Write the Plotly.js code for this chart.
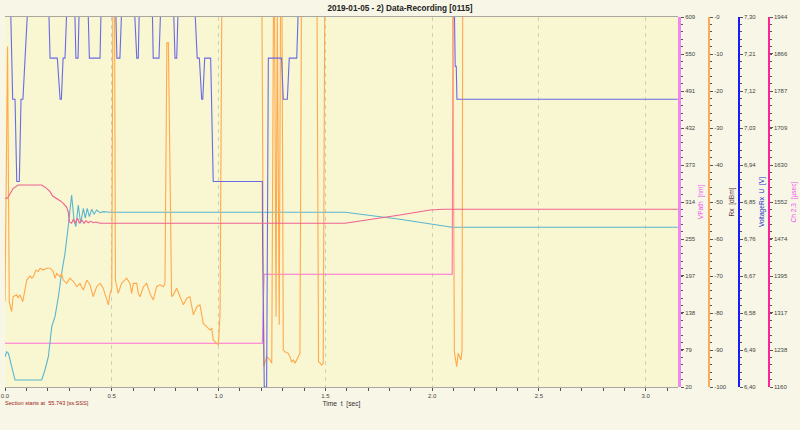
<!DOCTYPE html>
<html><head><meta charset="utf-8">
<script src="https://cdn.plot.ly/plotly-3.0.1.min.js"></script>
<style>html,body{margin:0;padding:0;background:#f8f6e6;}#chart{width:800px;height:430px;}</style>
</head><body><div id="chart"></div>
<script>
// ---- data (time in sec) ----
const voltT = [0,0.023,0.036,0.047,0.055,0.067,0.075,0.084,0.114,0.201,0.211,0.245,0.258,0.264,0.272,0.281,0.295,0.323,0.332,0.342,0.351,0.385,0.395,0.445,0.453,0.515,0.524,0.538,0.552,0.599,0.617,0.624,0.632,0.687,0.694,0.721,0.734,0.785,0.796,0.804,0.815,0.882,0.900,0.910,0.921,0.926,0.935,0.963,0.975,1.205,1.206,1.214,1.225,1.228,1.233,1.295,1.303,1.322,1.331,1.366,1.378,2.102,2.108,2.113,2.116,3.15];
const voltV = [7.40,7.40,7.10,7.10,6.90,6.90,7.10,7.10,7.40,7.40,7.20,7.20,7.10,7.10,7.20,7.20,7.40,7.40,7.20,7.20,7.40,7.40,7.20,7.20,7.40,7.40,7.20,7.20,7.40,7.40,7.20,7.20,7.40,7.40,7.20,7.20,7.40,7.40,7.20,7.20,7.40,7.40,7.20,7.20,7.10,7.10,7.20,7.20,6.90,6.90,6.75,6.40,6.40,6.64,7.20,7.20,7.10,7.10,7.20,7.20,7.40,7.40,7.18,7.18,7.10,7.10];

const rxT = [0,0.012,0.020,0.031,0.038,0.055,0.061,0.070,0.083,0.094,0.102,0.117,0.125,0.133,0.145,0.156,0.164,0.179,0.195,0.211,0.226,0.234,0.242,0.258,0.265,0.273,0.289,0.304,0.320,0.336,0.351,0.367,0.383,0.398,0.413,0.429,0.445,0.460,0.476,0.484,0.492,0.500,0.505,0.513,0.517,0.530,0.546,0.570,0.585,0.593,0.601,0.617,0.624,0.632,0.648,0.663,0.679,0.694,0.710,0.726,0.741,0.749,0.758,0.765,0.780,0.788,0.804,0.819,0.835,0.851,0.866,0.882,0.898,0.913,0.928,0.944,0.960,0.968,0.975,0.991,0.999,1.007,1.015,1.203,1.212,1.225,1.241,1.249,1.257,1.262,1.269,1.275,1.284,1.290,1.297,1.303,1.311,1.326,1.334,1.342,1.350,1.358,1.366,1.373,1.381,1.388,1.461,1.468,1.475,1.483,1.490,1.497,2.097,2.104,2.115,2.122,2.130,2.135,2.140,2.143,3.15];
const rxV = [-76.9,-8,-77,-79.6,-75.6,-75.1,-75.9,-75.1,-76.9,-73.8,-71.1,-70.0,-70.6,-70.2,-68.4,-68.8,-67.9,-68.4,-67.9,-67.9,-68.8,-70.6,-69.3,-70.2,-69.3,-71.1,-72.0,-70.6,-71.5,-72.9,-72.0,-73.8,-71.1,-72.4,-75.6,-72.9,-72.0,-73.3,-76.5,-77.8,-74.7,-73.3,2,2,-71.1,-74.7,-72.0,-70.6,-72.0,-74.7,-72.0,-72.0,-74.7,-75.6,-72.9,-72.0,-74.7,-76.5,-72.9,-72.4,-72.9,-72.0,-7,-7,-75.6,-75.1,-73.3,-75.6,-77.8,-76.0,-75.6,-80.5,-78.3,-77.8,-82.8,-83.7,-84.6,-84.1,-87.3,-88.2,-88.6,-80.1,2,2,-94.5,-91.8,-92.7,-93.6,2,2,-81.0,2,-83.2,2,2,-90.0,-90.5,-90.9,-91.8,-93.2,-92.7,-93.6,-92.7,-92.2,-90.9,2,2,-93.2,-93.5,-94.1,-93.6,2,2,-90.5,-94.5,-90.9,-91.8,-92.7,-90.0,2,2];

const cyanT = [0,0.008,0.016,0.031,0.047,0.172,0.187,0.203,0.219,0.234,0.250,0.265,0.281,0.296,0.304,0.312,0.323,0.332,0.343,0.354,0.367,0.376,0.385,0.395,0.406,0.417,0.429,0.445,0.460,0.492,1.592,1.849,2.093,3.15];
const cyanV = [68.2,76.2,73.6,52.3,31.1,31.1,47.1,68.2,116.0,131.9,163.7,201.0,232.8,275.2,307.0,325.6,285.8,275.2,309.7,280.6,304.5,288.6,304.5,291.1,302.9,294.9,301.8,297.5,299.1,298.1,298.1,287.0,274.2,274.2];

const vpathT = [0,1.205,1.213,2.094,2.099,3.15];
const vpathV = [89.6,89.6,199.4,199.4,700,700];

const ch23T = [0,0.011,0.023,0.039,0.062,0.172,0.195,0.211,0.223,0.242,0.258,0.273,0.289,0.296,0.301,0.312,0.320,0.328,0.339,0.348,0.359,0.370,0.379,0.390,0.401,0.413,0.426,0.445,1.592,1.849,1.990,2.051,3.15];
const ch23V = [1559.8,1559.8,1569.0,1581.0,1588.0,1588.0,1581.0,1573.8,1564.7,1559.8,1554.8,1549.2,1540.8,1531.4,1510.3,1506.9,1515.3,1506.9,1517.5,1506.9,1513.9,1506.9,1512.4,1508.1,1511.1,1508.1,1509.6,1506.9,1506.9,1524.5,1535.0,1536.5,1536.5];

// ---- tick labels ----
const xTicks = [0,0.5,1.0,1.5,2.0,2.5,3.0];
const xTickText = ['0.0','0.5','1.0','1.5','2.0','2.5','3.0'];
const vpathTicks = [20,79,138,197,255,314,373,432,491,550,609];
const rxTicks = [-100,-90,-80,-70,-60,-50,-40,-30,-20,-10,0];
const rxTickText = ['-100','-90','-80','-70','-60','-50','-40','-30','-20','-10','-0'];
const voltTicks = [6.40,6.49,6.58,6.67,6.76,6.85,6.94,7.03,7.12,7.21,7.30];
const voltTickText = ['6,40','6,49','6,58','6,67','6,76','6,85','6,94','7,03','7,12','7,21','7,30'];
const ch23Ticks = [1160,1238,1317,1395,1474,1552,1630,1709,1787,1866,1944];

const FONT = 'Liberation Sans, Arial, sans-serif';
const tickFont = {family: FONT, size: 6, color: '#444'};

function yax(range, ticks, text, pos, lineColor, lw, title, titleColor) {
  return {
    range: range, side: 'right', anchor: 'free', position: pos,
    showline: true, linecolor: lineColor, linewidth: lw,
    ticks: 'outside', ticklen: 3, tickcolor: '#555', tickwidth: 1,
    tickmode: 'array', tickvals: ticks, ticktext: text, tickfont: tickFont,
    minor: {tickmode: 'linear', tick0: range[0], dtick: (range[1]-range[0])/50, ticklen: 2, tickcolor: '#555', showgrid: false},
    showgrid: false, zeroline: false, fixedrange: true,
    title: {text: title, font: {family: FONT, size: 6.6, color: titleColor}, standoff: 3}
  };
}

const traces = [
  {x: rxT, y: rxV, yaxis: 'y2', mode: 'lines', name: 'Rx', line: {color: '#ffa94a', width: 1.1}},
  {x: ch23T, y: ch23V, yaxis: 'y4', mode: 'lines', name: 'Ch 2.3', line: {color: '#f0608e', width: 1.1}},
  {x: vpathT, y: vpathV, yaxis: 'y', mode: 'lines', name: 'VPath', line: {color: '#ff70d8', width: 1.1}},
  {x: cyanT, y: cyanV, yaxis: 'y', mode: 'lines', name: 'VPath 2', line: {color: '#5ab6cf', width: 1.1}},
  {x: voltT, y: voltV, yaxis: 'y3', mode: 'lines', name: 'VoltageRx U', line: {color: '#6a6ae6', width: 1.1}}
];

const layout = {
  width: 800, height: 430,
  paper_bgcolor: '#f8f6e6', plot_bgcolor: '#f9f6d2',
  margin: {l: 5, r: 0, t: 17, b: 43},
  showlegend: false,
  font: {family: FONT, size: 6, color: '#333'},
  title: {text: '2019-01-05 - 2) Data-Recording [0115]', xref: 'container', x: 0.5, xanchor: 'center',
          yref: 'container', y: 0.981, yanchor: 'middle',
          font: {family: FONT, size: 8.2, color: '#222', weight: 'bold'}},
  xaxis: {
    domain: [0, 0.8465], range: [0, 3.151],
    tickmode: 'array', tickvals: xTicks, ticktext: xTickText, tickfont: tickFont,
    ticks: 'outside', ticklen: 3, tickcolor: '#555',
    minor: {tickmode: 'linear', tick0: 0, dtick: 0.1, ticklen: 3, tickcolor: '#555', showgrid: false},
    showgrid: true, gridcolor: '#cfcfc0', griddash: '4px,4px', gridwidth: 1,
    showline: true, linecolor: '#a8a8a0', linewidth: 1, mirror: true,
    zeroline: false, fixedrange: true,
    title: {text: 'Time  t  [sec]', font: {family: FONT, size: 6.7, color: '#333'}, standoff: 3}
  },
  yaxis: yax([20, 609], vpathTicks, vpathTicks.map(String), 0.8478, '#ee88ee', 3, 'VPath  [nm]', '#ee55ee'),
  yaxis2: Object.assign(yax([-100, 0], rxTicks, rxTickText, 0.8855, '#ffaa55', 2, 'Rx  [dBm]', '#553344'), {overlaying: 'y'}),
  yaxis3: Object.assign(yax([6.40, 7.30], voltTicks, voltTickText, 0.9229, '#1a1aff', 2, 'VoltageRx  U  [V]', '#2233cc'), {overlaying: 'y'}),
  yaxis4: Object.assign(yax([1160, 1944], ch23Ticks, ch23Ticks.map(String), 0.9606, '#ff2299', 2, 'Ch 2.3  [µsec]', '#ee55ee'), {overlaying: 'y'}),
  annotations: [
    {text: 'Section starts at  55.743 [ss:SSS]', xref: 'paper', yref: 'paper', x: -0.002, y: -0.043,
     xanchor: 'left', yanchor: 'middle', showarrow: false, font: {family: FONT, size: 5.6, color: '#a02020'}}
  ]
};

Plotly.newPlot('chart', traces, layout, {staticPlot: true, displayModeBar: false});
</script></body></html>
